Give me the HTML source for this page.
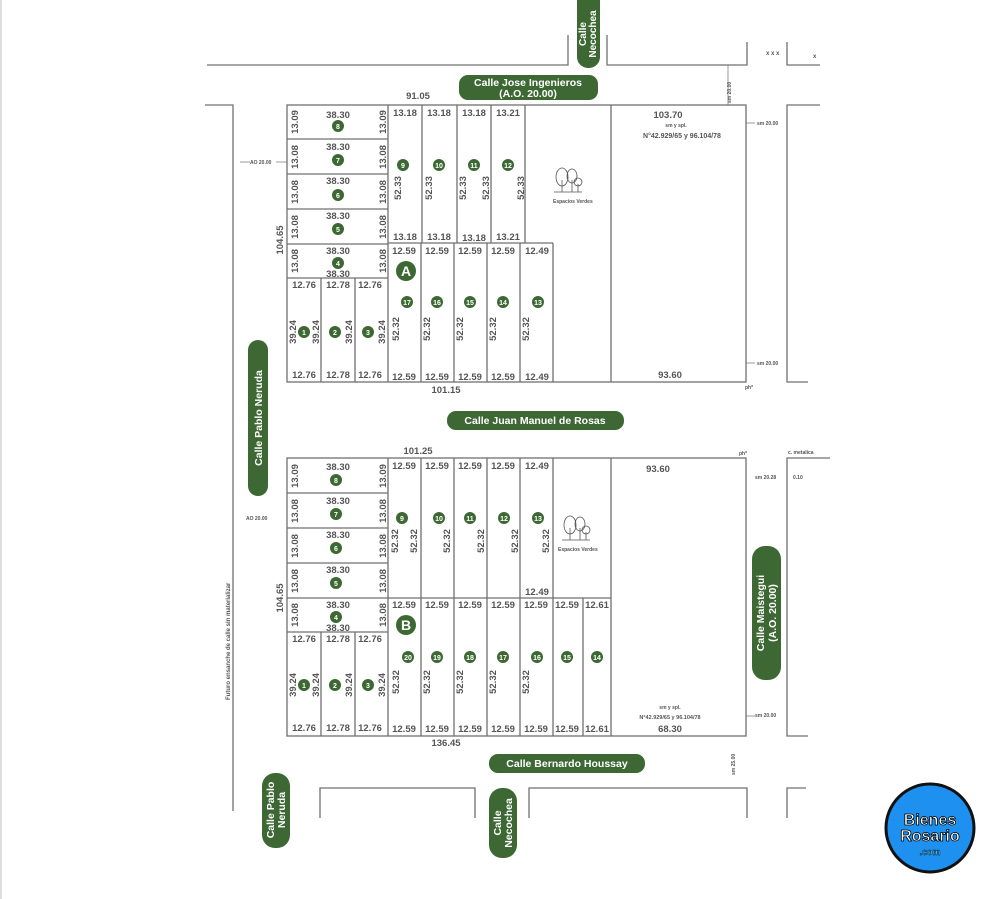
<!DOCTYPE html>
<html><head><meta charset="utf-8"><style>
html,body{margin:0;padding:0;background:#fff;width:1000px;height:899px;overflow:hidden}
svg{display:block}
text{font-family:"Liberation Sans",sans-serif;fill:#555;font-weight:bold}
.n{font-size:9.5px}
.s{font-size:5px}
.c{font-size:7px;fill:#fff;text-anchor:middle}
.p{font-size:10.5px;fill:#fff;font-weight:bold;text-anchor:middle}
</style></head><body>
<svg width="1000" height="899" viewBox="0 0 1000 899" xmlns="http://www.w3.org/2000/svg">
<line x1="1" y1="0" x2="1" y2="899" stroke="#bbb" stroke-width="1"/>
<g stroke="#707070" stroke-width="1.3" fill="none">
<polyline points="207,65 568,65 568,35"/>
<polyline points="607,35 607,65 747,65 747,42"/>
<polyline points="787,42 787,65 820,65"/>
<polyline points="205,105 233,105 233,811"/>
<polyline points="820,105 787,105 787,382 808,382"/>
<polyline points="830,458 787,458 787,736 808,736"/>
<polyline points="320,818 320,788 475,788 475,818"/>
<polyline points="529,818 529,788 747,788 747,818"/>
<polyline points="787,818 787,788 806,788"/>
<rect x="287" y="105" width="459" height="277"/>
<line x1="287" y1="139" x2="388" y2="139"/><line x1="287" y1="174" x2="388" y2="174"/>
<line x1="287" y1="209" x2="388" y2="209"/><line x1="287" y1="244" x2="388" y2="244"/>
<line x1="287" y1="278" x2="388" y2="278"/>
<line x1="388" y1="105" x2="388" y2="382"/>
<line x1="422" y1="105" x2="422" y2="243"/><line x1="457" y1="105" x2="457" y2="243"/>
<line x1="491" y1="105" x2="491" y2="243"/><line x1="525" y1="105" x2="525" y2="243"/>
<line x1="388" y1="243" x2="553" y2="243"/>
<line x1="421" y1="243" x2="421" y2="382"/><line x1="454" y1="243" x2="454" y2="382"/>
<line x1="487" y1="243" x2="487" y2="382"/><line x1="520" y1="243" x2="520" y2="382"/>
<line x1="553" y1="243" x2="553" y2="382"/>
<line x1="611" y1="105" x2="611" y2="382"/>
<line x1="321" y1="278" x2="321" y2="382"/><line x1="355" y1="278" x2="355" y2="382"/>
<rect x="287" y="458" width="459" height="278"/>
<line x1="287" y1="493" x2="388" y2="493"/><line x1="287" y1="528" x2="388" y2="528"/>
<line x1="287" y1="563" x2="388" y2="563"/><line x1="287" y1="598" x2="388" y2="598"/>
<line x1="287" y1="632" x2="388" y2="632"/>
<line x1="388" y1="458" x2="388" y2="736"/>
<line x1="421" y1="458" x2="421" y2="736"/><line x1="454" y1="458" x2="454" y2="736"/>
<line x1="487" y1="458" x2="487" y2="736"/><line x1="520" y1="458" x2="520" y2="736"/>
<line x1="553" y1="458" x2="553" y2="736"/>
<line x1="388" y1="598" x2="611" y2="598"/>
<line x1="583" y1="598" x2="583" y2="736"/>
<line x1="611" y1="458" x2="611" y2="736"/>
<line x1="321" y1="632" x2="321" y2="736"/><line x1="355" y1="632" x2="355" y2="736"/>
<line x1="240" y1="162" x2="250" y2="162" stroke-width="0.7"/><line x1="276" y1="162" x2="287" y2="162" stroke-width="0.7"/>
<line x1="728" y1="65" x2="728" y2="105" stroke-width="0.7"/>
<line x1="746" y1="123" x2="755" y2="123" stroke-width="0.7"/><line x1="746" y1="363" x2="755" y2="363" stroke-width="0.7"/>
<line x1="746" y1="716" x2="755" y2="716" stroke-width="0.7"/>
<g stroke="#555" stroke-width="0.8">
<ellipse cx="562" cy="177" rx="6" ry="9"/><ellipse cx="572" cy="176" rx="5" ry="7"/><circle cx="578" cy="182" r="4"/>
<line x1="554" y1="192" x2="582" y2="192"/><line x1="562" y1="180" x2="562" y2="192"/><line x1="572" y1="180" x2="572" y2="192"/><line x1="578" y1="184" x2="578" y2="192"/>
<ellipse cx="570" cy="525" rx="6" ry="9"/><ellipse cx="580" cy="524" rx="5" ry="7"/><circle cx="586" cy="530" r="4"/>
<line x1="562" y1="540" x2="590" y2="540"/><line x1="570" y1="528" x2="570" y2="540"/><line x1="580" y1="528" x2="580" y2="540"/><line x1="586" y1="532" x2="586" y2="540"/>
</g>
</g>
<g fill="#3d6834">
<rect x="577" y="-10" width="23" height="78" rx="11"/>
<rect x="459" y="75" width="139" height="25" rx="9"/>
<rect x="248" y="340" width="20" height="156" rx="10"/>
<rect x="447" y="411" width="177" height="19" rx="9"/>
<rect x="752" y="546" width="29" height="134" rx="13"/>
<rect x="489" y="754" width="156" height="19" rx="9"/>
<rect x="262" y="773" width="28" height="75" rx="13"/>
<rect x="489" y="788" width="28" height="70" rx="13"/>
</g>
<text class="p" transform="translate(588,34) rotate(-90)" style="font-size:10px"><tspan x="0" y="-2">Calle</tspan><tspan x="0" y="8">Necochea</tspan></text>
<text class="p" x="528" y="86">Calle Jose Ingenieros</text>
<text class="p" x="528" y="97">(A.O. 20.00)</text>
<text class="p" transform="translate(262,418) rotate(-90)">Calle Pablo Neruda</text>
<text class="p" x="535" y="424">Calle Juan Manuel de Rosas</text>
<text class="p" transform="translate(766,613) rotate(-90)"><tspan x="0" y="-2">Calle Maistegui</tspan><tspan x="0" y="10">(A.O. 20.00)</tspan></text>
<text class="p" x="567" y="767">Calle Bernardo Houssay</text>
<text class="p" transform="translate(276,810) rotate(-90)"><tspan x="0" y="-2">Calle Pablo</tspan><tspan x="0" y="9">Neruda</tspan></text>
<text class="p" transform="translate(503,823) rotate(-90)"><tspan x="0" y="-2">Calle</tspan><tspan x="0" y="9">Necochea</tspan></text>

<g fill="#3d6834">
<circle cx="338" cy="126" r="6"/><circle cx="338" cy="160" r="6"/><circle cx="338" cy="195" r="6"/><circle cx="338" cy="229" r="6"/><circle cx="338" cy="263" r="6"/>
<circle cx="403" cy="165" r="6"/><circle cx="439" cy="165" r="6"/><circle cx="474" cy="165" r="6"/><circle cx="508" cy="165" r="6"/>
<circle cx="406" cy="271" r="10"/>
<circle cx="407" cy="302" r="6"/><circle cx="437" cy="302" r="6"/><circle cx="470" cy="302" r="6"/><circle cx="503" cy="302" r="6"/><circle cx="538" cy="302" r="6"/>
<circle cx="304" cy="332" r="6"/><circle cx="335" cy="332" r="6"/><circle cx="368" cy="332" r="6"/>
<circle cx="336" cy="480" r="6"/><circle cx="336" cy="514" r="6"/><circle cx="336" cy="548" r="6"/><circle cx="336" cy="583" r="6"/><circle cx="336" cy="617" r="6"/>
<circle cx="402" cy="518" r="6"/><circle cx="439" cy="518" r="6"/><circle cx="470" cy="518" r="6"/><circle cx="504" cy="518" r="6"/><circle cx="538" cy="518" r="6"/>
<circle cx="406" cy="625" r="10"/>
<circle cx="408" cy="657" r="6"/><circle cx="437" cy="657" r="6"/><circle cx="470" cy="657" r="6"/><circle cx="503" cy="657" r="6"/><circle cx="537" cy="657" r="6"/><circle cx="567" cy="657" r="6"/><circle cx="597" cy="657" r="6"/>
<circle cx="304" cy="685" r="6"/><circle cx="335" cy="685" r="6"/><circle cx="368" cy="685" r="6"/>
</g>
<g class="c">
<text class="c" x="338" y="129">8</text><text class="c" x="338" y="163">7</text><text class="c" x="338" y="198">6</text><text class="c" x="338" y="232">5</text><text class="c" x="338" y="266">4</text>
<text class="c" x="403" y="168">9</text><text class="c" x="439" y="168">10</text><text class="c" x="474" y="168">11</text><text class="c" x="508" y="168">12</text>
<text class="c" x="406" y="276" style="font-size:14px">A</text>
<text class="c" x="407" y="305">17</text><text class="c" x="437" y="305">16</text><text class="c" x="470" y="305">15</text><text class="c" x="503" y="305">14</text><text class="c" x="538" y="305">13</text>
<text class="c" x="304" y="335">1</text><text class="c" x="335" y="335">2</text><text class="c" x="368" y="335">3</text>
<text class="c" x="336" y="483">8</text><text class="c" x="336" y="517">7</text><text class="c" x="336" y="551">6</text><text class="c" x="336" y="586">5</text><text class="c" x="336" y="620">4</text>
<text class="c" x="402" y="521">9</text><text class="c" x="439" y="521">10</text><text class="c" x="470" y="521">11</text><text class="c" x="504" y="521">12</text><text class="c" x="538" y="521">13</text>
<text class="c" x="406" y="630" style="font-size:14px">B</text>
<text class="c" x="408" y="660">20</text><text class="c" x="437" y="660">19</text><text class="c" x="470" y="660">18</text><text class="c" x="503" y="660">17</text><text class="c" x="537" y="660">16</text><text class="c" x="567" y="660">15</text><text class="c" x="597" y="660">14</text>
<text class="c" x="304" y="688">1</text><text class="c" x="335" y="688">2</text><text class="c" x="368" y="688">3</text>
</g>

<g class="n" text-anchor="middle">
<text class="n" x="418" y="99">91.05</text>
<text class="n" x="338" y="118">38.30</text><text class="n" x="338" y="150">38.30</text><text class="n" x="338" y="184">38.30</text><text class="n" x="338" y="219">38.30</text><text class="n" x="338" y="254">38.30</text><text class="n" x="338" y="277">38.30</text>
<text class="n" x="405" y="116">13.18</text><text class="n" x="439" y="116">13.18</text><text class="n" x="474" y="116">13.18</text><text class="n" x="508" y="116">13.21</text>
<text class="n" x="405" y="240">13.18</text><text class="n" x="439" y="240">13.18</text><text class="n" x="474" y="241">13.18</text><text class="n" x="508" y="240">13.21</text>
<text class="n" x="404" y="254">12.59</text><text class="n" x="437" y="254">12.59</text><text class="n" x="470" y="254">12.59</text><text class="n" x="503" y="254">12.59</text><text class="n" x="537" y="254">12.49</text>
<text class="n" x="404" y="380">12.59</text><text class="n" x="437" y="380">12.59</text><text class="n" x="470" y="380">12.59</text><text class="n" x="503" y="380">12.59</text><text class="n" x="537" y="380">12.49</text>
<text class="n" x="304" y="288">12.76</text><text class="n" x="338" y="288">12.78</text><text class="n" x="370" y="288">12.76</text>
<text class="n" x="304" y="378">12.76</text><text class="n" x="338" y="378">12.78</text><text class="n" x="370" y="378">12.76</text>
<text class="n" x="446" y="393">101.15</text>
<text class="n" x="668" y="118">103.70</text>
<text class="n" x="670" y="378">93.60</text>
<text class="n" x="682" y="138" style="font-size:7px">N°42.929/65 y 96.104/78</text>

<text class="n" x="418" y="454">101.25</text>
<text class="n" x="338" y="470">38.30</text><text class="n" x="338" y="504">38.30</text><text class="n" x="338" y="538">38.30</text><text class="n" x="338" y="573">38.30</text><text class="n" x="338" y="608">38.30</text><text class="n" x="338" y="631">38.30</text>
<text class="n" x="404" y="469">12.59</text><text class="n" x="437" y="469">12.59</text><text class="n" x="470" y="469">12.59</text><text class="n" x="503" y="469">12.59</text><text class="n" x="537" y="469">12.49</text>
<text class="n" x="537" y="595">12.49</text>
<text class="n" x="404" y="608">12.59</text><text class="n" x="437" y="608">12.59</text><text class="n" x="470" y="608">12.59</text><text class="n" x="503" y="608">12.59</text><text class="n" x="536" y="608">12.59</text><text class="n" x="567" y="608">12.59</text><text class="n" x="597" y="608">12.61</text>
<text class="n" x="404" y="732">12.59</text><text class="n" x="437" y="732">12.59</text><text class="n" x="470" y="732">12.59</text><text class="n" x="503" y="732">12.59</text><text class="n" x="536" y="732">12.59</text><text class="n" x="567" y="732">12.59</text><text class="n" x="597" y="732">12.61</text>
<text class="n" x="304" y="642">12.76</text><text class="n" x="338" y="642">12.78</text><text class="n" x="370" y="642">12.76</text>
<text class="n" x="304" y="731">12.76</text><text class="n" x="338" y="731">12.78</text><text class="n" x="370" y="731">12.76</text>
<text class="n" x="446" y="746">136.45</text>
<text class="n" x="658" y="472">93.60</text>
<text class="n" x="670" y="732">68.30</text>
<text class="n" x="670" y="719" style="font-size:5.5px">N°42.929/65 y 96.104/78</text>
<text class="n" x="670" y="709" style="font-size:5px">sm y spl.</text>
<text class="n" x="676" y="127" style="font-size:5px">sm y spl.</text>
</g>

<g class="n" text-anchor="middle">
<text class="n" transform="translate(298,122) rotate(-90)">13.09</text><text class="n" transform="translate(386,122) rotate(-90)">13.09</text>
<text class="n" transform="translate(298,157) rotate(-90)">13.08</text><text class="n" transform="translate(386,157) rotate(-90)">13.08</text>
<text class="n" transform="translate(298,192) rotate(-90)">13.08</text><text class="n" transform="translate(386,192) rotate(-90)">13.08</text>
<text class="n" transform="translate(298,227) rotate(-90)">13.08</text><text class="n" transform="translate(386,227) rotate(-90)">13.08</text>
<text class="n" transform="translate(298,261) rotate(-90)">13.08</text><text class="n" transform="translate(386,261) rotate(-90)">13.08</text>
<text class="n" transform="translate(401,188) rotate(-90)">52.33</text><text class="n" transform="translate(432,188) rotate(-90)">52.33</text>
<text class="n" transform="translate(466,188) rotate(-90)">52.33</text><text class="n" transform="translate(489,188) rotate(-90)">52.33</text><text class="n" transform="translate(524,188) rotate(-90)">52.33</text>
<text class="n" transform="translate(399,329) rotate(-90)">52.32</text><text class="n" transform="translate(430,329) rotate(-90)">52.32</text><text class="n" transform="translate(463,329) rotate(-90)">52.32</text><text class="n" transform="translate(496,329) rotate(-90)">52.32</text><text class="n" transform="translate(529,329) rotate(-90)">52.32</text>
<text class="n" transform="translate(296,332) rotate(-90)">39.24</text><text class="n" transform="translate(319,332) rotate(-90)">39.24</text><text class="n" transform="translate(352,332) rotate(-90)">39.24</text><text class="n" transform="translate(385,332) rotate(-90)">39.24</text>
<text class="n" transform="translate(283,240) rotate(-90)">104.65</text>

<text class="n" transform="translate(298,476) rotate(-90)">13.09</text><text class="n" transform="translate(386,476) rotate(-90)">13.09</text>
<text class="n" transform="translate(298,511) rotate(-90)">13.08</text><text class="n" transform="translate(386,511) rotate(-90)">13.08</text>
<text class="n" transform="translate(298,546) rotate(-90)">13.08</text><text class="n" transform="translate(386,546) rotate(-90)">13.08</text>
<text class="n" transform="translate(298,581) rotate(-90)">13.08</text><text class="n" transform="translate(386,581) rotate(-90)">13.08</text>
<text class="n" transform="translate(298,615) rotate(-90)">13.08</text><text class="n" transform="translate(386,615) rotate(-90)">13.08</text>
<text class="n" transform="translate(398,541) rotate(-90)">52.32</text><text class="n" transform="translate(417,541) rotate(-90)">52.32</text><text class="n" transform="translate(450,541) rotate(-90)">52.32</text>
<text class="n" transform="translate(484,541) rotate(-90)">52.32</text><text class="n" transform="translate(518,541) rotate(-90)">52.32</text><text class="n" transform="translate(549,541) rotate(-90)">52.32</text>
<text class="n" transform="translate(399,682) rotate(-90)">52.32</text><text class="n" transform="translate(430,682) rotate(-90)">52.32</text><text class="n" transform="translate(463,682) rotate(-90)">52.32</text><text class="n" transform="translate(496,682) rotate(-90)">52.32</text><text class="n" transform="translate(529,682) rotate(-90)">52.32</text>
<text class="n" transform="translate(296,685) rotate(-90)">39.24</text><text class="n" transform="translate(319,685) rotate(-90)">39.24</text><text class="n" transform="translate(352,685) rotate(-90)">39.24</text><text class="n" transform="translate(385,685) rotate(-90)">39.24</text>
<text class="n" transform="translate(283,598) rotate(-90)">104.65</text>
</g>

<g class="s">
<text class="s" x="250" y="164">AO 20.00</text>
<text class="s" x="246" y="520">AO 20.00</text>
<text class="s" transform="translate(230,700) rotate(-90)" style="font-size:6px">Futuro ensanche de calle sin materializar</text>
<text class="s" transform="translate(731,103) rotate(-90)">sm 20.00</text>
<text class="s" x="757" y="125">sm 20.00</text>
<text class="s" x="757" y="365">sm 20.00</text>
<text class="s" x="745" y="389">ph*</text>
<text class="s" x="739" y="455">ph*</text>
<text class="s" x="788" y="454">c. metalica</text>
<text class="s" x="755" y="479">sm 20.28</text>
<text class="s" x="793" y="479">0.10</text>
<text class="s" x="755" y="717">sm 20.00</text>
<text class="s" transform="translate(735,775) rotate(-90)">sm 25.00</text>
<text class="s" x="553" y="203">Espacios Verdes</text>
<text class="s" x="558" y="551">Espacios Verdes</text>
<text class="s" x="766" y="55" style="font-size:6px">x  x x</text>
<text class="s" x="813" y="58" style="font-size:6px">x</text>
</g>

<circle cx="930" cy="828" r="44" fill="#1e90f0" stroke="#111" stroke-width="3"/>
<text x="930" y="825" text-anchor="middle" style="font-size:16px;fill:#fff;stroke:#000;stroke-width:0.8;font-weight:bold">Bienes</text>
<text x="930" y="841" text-anchor="middle" style="font-size:16px;fill:#fff;stroke:#000;stroke-width:0.8;font-weight:bold">Rosario</text>
<text x="930" y="855" text-anchor="middle" style="font-size:9px;fill:#5cf;stroke:#000;stroke-width:0.4;font-weight:bold">.com</text>
</svg>
</body></html>
